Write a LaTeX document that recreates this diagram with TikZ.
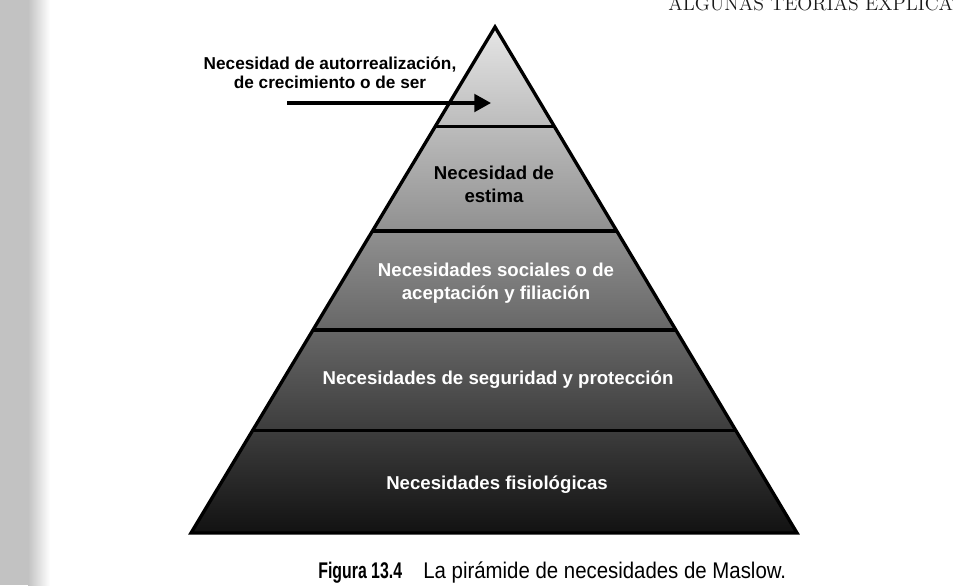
\documentclass[tikz,border=0pt]{standalone}
\usepackage{fontspec}
\usepackage{tikz}
\usetikzlibrary{positioning,calc,arrows.meta}
\newfontfamily\sans{Liberation Sans}
\newfontfamily\capreg[FakeStretch=0.9]{Liberation Sans}
\newfontfamily\capbold[FakeStretch=0.7]{Liberation Sans Bold}
\definecolor{borde}{HTML}{C2C2C2}
\definecolor{tinta}{HTML}{1A1A1A}

\begin{document}
\begin{tikzpicture}[x=0.02cm,y=-0.02cm,
      every node/.style={font=\sans\bfseries\fontsize{10.6}{13}\selectfont,align=center},
      nivel/.style={draw=black,line width=1.9pt,line join=miter},
      oscuro/.style={text=white},
      flecha/.style={-{Triangle[length=9.5pt,width=10pt]},line width=1.9pt}]
      \useasboundingbox (0,0) rectangle (955,585);
      \fill[borde] (0,0) rectangle (28,585);
      \shade[left color=borde,right color=white] (28,0) rectangle (50,585);
      % pyramid
      \coordinate (cima) at (495,27);
      \coordinate (izq) at (191,533);
      \coordinate (der) at (797,533);
      \shade[top color=black!10,middle color=black!45,bottom color=black!93] (cima) -- (der) -- (izq) -- cycle;
      \foreach \t in {0.196,0.403,0.599,0.798}
        \draw[nivel] ($(cima)!\t!(izq)$) -- ($(cima)!\t!(der)$);
      \draw[nivel] (cima) -- (der) -- (izq) -- cycle;
      % levels
      \node (estima) at (494,184) {Necesidad de\\estima};
      \node[oscuro] (social) at (496,283) {Necesidades sociales o de\\aceptación y filiación};
      \node[oscuro] (seguridad) at (498,380) {Necesidades de seguridad y protección};
      \node[oscuro] (fisiol) at (497,485) {Necesidades fisiológicas};
      % top label and arrow
      \node[font=\sans\bfseries\fontsize{9.8}{11}\selectfont] (autorreal) at (330,73) {Necesidad de autorrealización,\\de crecimiento o de ser};
      \coordinate (flecha-ini) at (287,103);
      \coordinate (flecha-fin) at (491,103);
      \draw[flecha] (flecha-ini) -- (flecha-fin);
      % caption
      \node[anchor=base west,inner sep=0,font=\capbold\fontsize{12.9}{14}\selectfont] (figura) at (318,578) {Figura 13.4};
      \node[anchor=base west,inner sep=0,font=\capreg\fontsize{12.9}{14}\selectfont] (pie) at (423,578) {La pirámide de necesidades de Maslow.};
      % running head, cut by the page
      \begin{scope}
        \clip (0,0) rectangle (955,585);
        \node[anchor=base west,inner sep=0,text=tinta,font=\rmfamily\fontsize{11.2}{12}\selectfont] (cabecera) at (668,10) {ALGUNAS TEORÍAS EXPLICATIVAS};
      \end{scope}
    \end{tikzpicture}
\end{document}
